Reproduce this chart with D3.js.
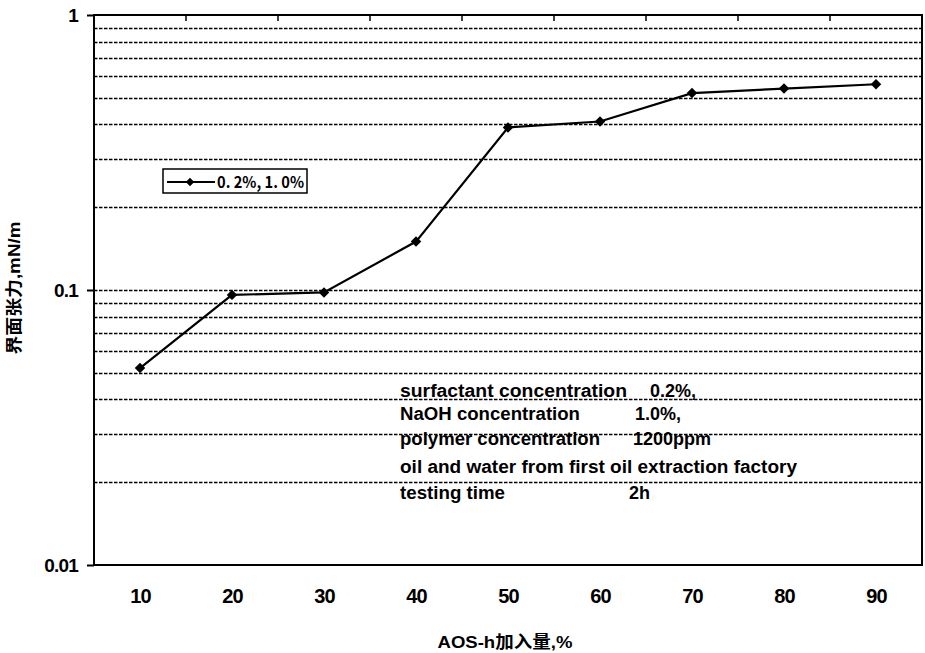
<!DOCTYPE html>
<html>
<head>
<meta charset="utf-8">
<script src="https://cdn.jsdelivr.net/npm/d3@7"></script>
<style>
  html, body { margin: 0; padding: 0; background: #fff; }
  svg { display: block; }
  text { fill: #000; }
</style>
</head>
<body>
<script>
// AOS-h dosage (%) on the x axis
const categories = [10, 20, 30, 40, 50, 60, 70, 80, 90];
// interfacial tension, mN/m (log scale)
const tension = [0.052, 0.096, 0.098, 0.15, 0.39, 0.41, 0.52, 0.54, 0.56];
const yTickValues = [0.01, 0.1, 1];
const seriesName = "0. 2%, 1. 0%";
const xTitle = "AOS-h加入量,%";
const yTitle = "界面张力,mN/m";
const noteLabels = [
  "surfactant concentration",
  "NaOH concentration",
  "polymer concentration",
  "oil and water from first oil extraction factory",
  "testing time"
];
const noteValues = ["0.2%,", "1.0%,", "1200ppm", "", "2h"];

const W = 925, H = 653;
const plot = { left: 94, right: 922, top: 15, bottom: 565 };
const latin = "'Liberation Sans', Arial, sans-serif";
const cjk = "'Liberation Sans', 'Noto Sans CJK SC', sans-serif";

const svg = d3.select("body").append("svg")
  .attr("width", W).attr("height", H);

const x = d3.scalePoint().domain(categories)
  .range([plot.left, plot.right]).padding(0.5);
const y = d3.scaleLog().domain([0.01, 1])
  .range([plot.bottom, plot.top]);

// dashed horizontal gridlines at every log tick inside the frame
const gridVals = y.ticks().filter(v => v > 0.0101 && v < 0.99);
svg.append("g").selectAll("line").data(gridVals).join("line")
  .attr("x1", plot.left).attr("x2", plot.right)
  .attr("y1", d => Math.round(y(d)) + 0.5).attr("y2", d => Math.round(y(d)) + 0.5)
  .attr("stroke", "#000").attr("stroke-width", 1.3)
  .attr("stroke-dasharray", "3.5,1.5");

// plot frame
svg.append("rect")
  .attr("x", plot.left).attr("y", plot.top)
  .attr("width", plot.right - plot.left).attr("height", plot.bottom - plot.top)
  .attr("fill", "none").attr("stroke", "#000").attr("stroke-width", 2);

// small category-boundary ticks hanging from the top edge
const step = x.step();
svg.append("g").selectAll("line").data(categories.slice(0, -1)).join("line")
  .attr("x1", d => x(d) + step / 2).attr("x2", d => x(d) + step / 2)
  .attr("y1", plot.top).attr("y2", plot.top + 6)
  .attr("stroke", "#000").attr("stroke-width", 1.5);

// left axis (ticks + labels only; the frame draws the spine)
const yAxis = svg.append("g")
  .attr("transform", `translate(${plot.left},0)`)
  .call(d3.axisLeft(y).tickValues(yTickValues).tickFormat(d => String(d))
    .tickSize(7).tickPadding(9));
yAxis.select(".domain").remove();
yAxis.selectAll(".tick line").attr("stroke", "#000").attr("stroke-width", 2);
yAxis.selectAll(".tick text")
  .attr("font-family", latin).attr("font-weight", "bold")
  .attr("font-size", 19).attr("letter-spacing", -0.8).attr("fill", "#000");

// bottom axis labels
const xAxis = svg.append("g")
  .attr("transform", `translate(0,${plot.bottom})`)
  .call(d3.axisBottom(x).tickSize(0).tickPadding(24));
xAxis.select(".domain").remove();
xAxis.selectAll(".tick text")
  .attr("font-family", latin).attr("font-weight", "bold")
  .attr("font-size", 20).attr("letter-spacing", -0.8).attr("fill", "#000");

// axis titles
svg.append("text")
  .attr("x", 505).attr("y", 648)
  .attr("text-anchor", "middle")
  .attr("font-family", cjk).attr("font-weight", "bold").attr("font-size", 17)
  .attr("textLength", 135).attr("lengthAdjust", "spacingAndGlyphs")
  .text(xTitle);

svg.append("text")
  .attr("transform", "translate(20,288) rotate(-90)")
  .attr("text-anchor", "middle")
  .attr("font-family", cjk).attr("font-weight", "bold").attr("font-size", 17)
  .attr("textLength", 133).attr("lengthAdjust", "spacingAndGlyphs")
  .text(yTitle);

// data line with diamond markers
const data = categories.map((c, i) => ({ c, v: tension[i] }));
svg.append("path").datum(data)
  .attr("fill", "none").attr("stroke", "#000").attr("stroke-width", 2.2)
  .attr("d", d3.line().x(d => x(d.c)).y(d => y(d.v)));

const diamond = d3.symbol().type(d3.symbolSquare).size(55);
svg.append("g").selectAll("path").data(data).join("path")
  .attr("d", diamond)
  .attr("transform", d => `translate(${x(d.c)},${y(d.v)}) rotate(45)`)
  .attr("fill", "#000");

// legend
const lg = svg.append("g").attr("transform", "translate(163,169)");
lg.append("rect").attr("width", 144).attr("height", 24)
  .attr("fill", "#fff").attr("stroke", "#000").attr("stroke-width", 1.5);
lg.append("line").attr("x1", 4).attr("x2", 52).attr("y1", 13).attr("y2", 13)
  .attr("stroke", "#000").attr("stroke-width", 2);
lg.append("path").attr("d", d3.symbol().type(d3.symbolSquare).size(36))
  .attr("transform", "translate(27,13) rotate(45)").attr("fill", "#000");
lg.append("text").attr("x", 54).attr("y", 19)
  .attr("font-family", "'Noto Sans CJK SC', sans-serif").attr("font-size", 16)
  .attr("font-weight", "bold")
  .attr("textLength", 87).attr("lengthAdjust", "spacingAndGlyphs")
  .text(seriesName);

// experimental conditions note
const rowY = [397, 420, 445, 473, 499];
const labelW = [227, 180, 200, 397, 105];
const valueX = [650, 635, 633, 0, 629];
const note = svg.append("g")
  .attr("font-family", latin).attr("font-weight", "bold").attr("font-size", 18);
noteLabels.forEach((t, i) => {
  note.append("text").attr("x", 400).attr("y", rowY[i])
    .attr("textLength", labelW[i]).attr("lengthAdjust", "spacingAndGlyphs")
    .text(t);
  if (noteValues[i]) {
    note.append("text").attr("x", valueX[i]).attr("y", rowY[i]).text(noteValues[i]);
  }
});
</script>
</body>
</html>
